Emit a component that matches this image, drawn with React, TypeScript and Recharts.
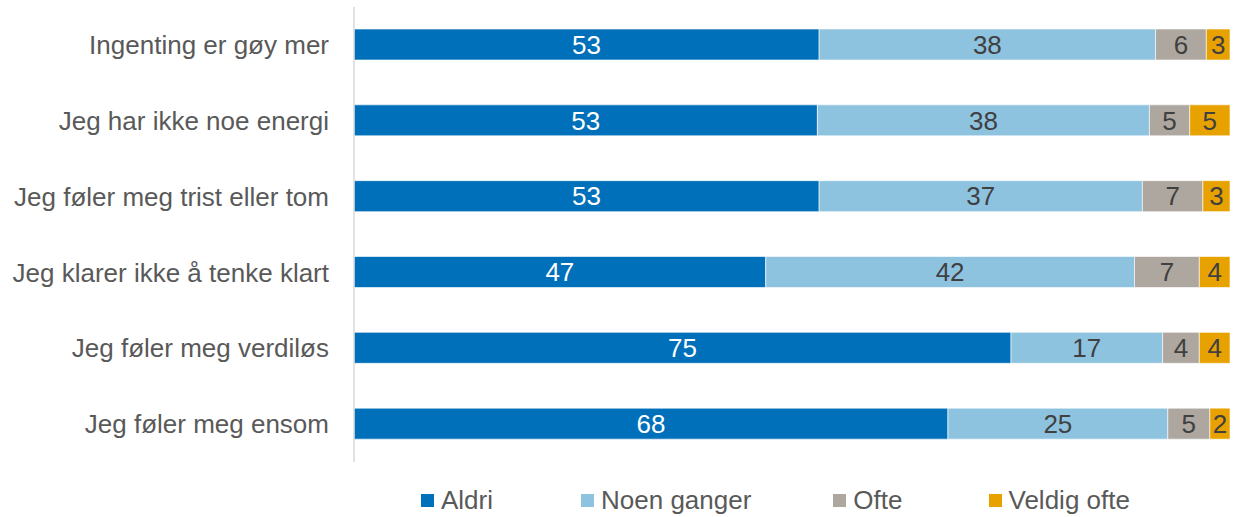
import React from 'react';
import { BarChart, Bar, XAxis, YAxis, Legend, LabelList } from 'recharts';

const categories = [
  'Ingenting er gøy mer',
  'Jeg har ikke noe energi',
  'Jeg føler meg trist eller tom',
  'Jeg klarer ikke å tenke klart',
  'Jeg føler meg verdiløs',
  'Jeg føler meg ensom',
];
const aldri = [53.1, 52.9, 53.1, 47.0, 75.0, 67.8];
const noenGanger = [38.4, 37.9, 36.9, 42.1, 17.3, 25.1];
const ofte = [5.8, 4.6, 6.9, 7.4, 4.2, 4.8];
const veldigOfte = [2.7, 4.6, 3.1, 3.5, 3.5, 2.3];

const series = [
  { key: 'aldri', name: 'Aldri', color: '#0070BA', text: '#ffffff' },
  { key: 'noen', name: 'Noen ganger', color: '#8EC3E0', text: '#404040' },
  { key: 'ofte', name: 'Ofte', color: '#ADA79F', text: '#404040' },
  { key: 'veldig', name: 'Veldig ofte', color: '#E8A200', text: '#404040' },
];

const data = categories.map((c, i) => ({
  name: c,
  aldri: aldri[i],
  noen: noenGanger[i],
  ofte: ofte[i],
  veldig: veldigOfte[i],
}));

const FONT = '"Liberation Sans", Arial, sans-serif';

// legend items are spread out like the Excel original
const legendGaps = [0, 88, 82, 86];

const CustomLegend = () => (
  <div style={{ display: 'flex', justifyContent: 'flex-start', paddingLeft: 421, fontFamily: FONT, fontSize: 26, color: '#595959', lineHeight: '30px' }}>
    {series.map((s, i) => (
      <div key={s.key} style={{ display: 'flex', alignItems: 'center', marginLeft: legendGaps[i] }}>
        <span style={{ width: 13, height: 13, background: s.color, display: 'inline-block', marginRight: 7 }} />
        {s.name}
      </div>
    ))}
  </div>
);

export default function App() {
  return (
    <div style={{ position: 'absolute', left: 0, top: 0, width: 1235, height: 517, background: '#fff' }}>
      <BarChart
        width={1235}
        height={517}
        data={data}
        layout="vertical"
        margin={{ top: 7, right: 5, left: 0, bottom: 25 }}
      >
        <XAxis type="number" domain={[0, 100]} hide />
        <YAxis
          type="category"
          dataKey="name"
          width={354}
          axisLine={{ stroke: '#D9D9D9', strokeWidth: 1.5 }}
          tickLine={false}
          tickSize={0}
          tickMargin={25}
          tick={{ fontSize: 26, fill: '#595959', fontFamily: FONT }}
        />
        <Legend verticalAlign="bottom" content={<CustomLegend />} wrapperStyle={{ bottom: 2 }} />
        {series.map((s) => (
          <Bar
            key={s.key}
            dataKey={s.key}
            name={s.name}
            stackId="a"
            fill={s.color}
            stroke="#ffffff"
            strokeOpacity={0.6}
            strokeWidth={1}
            barSize={31}
            isAnimationActive={false}
          >
            <LabelList
              dataKey={s.key}
              position="center"
              formatter={(v: number) => Math.round(v)}
              fill={s.text}
              style={{ fontSize: 26, fontFamily: FONT }}
            />
          </Bar>
        ))}
      </BarChart>
    </div>
  );
}
